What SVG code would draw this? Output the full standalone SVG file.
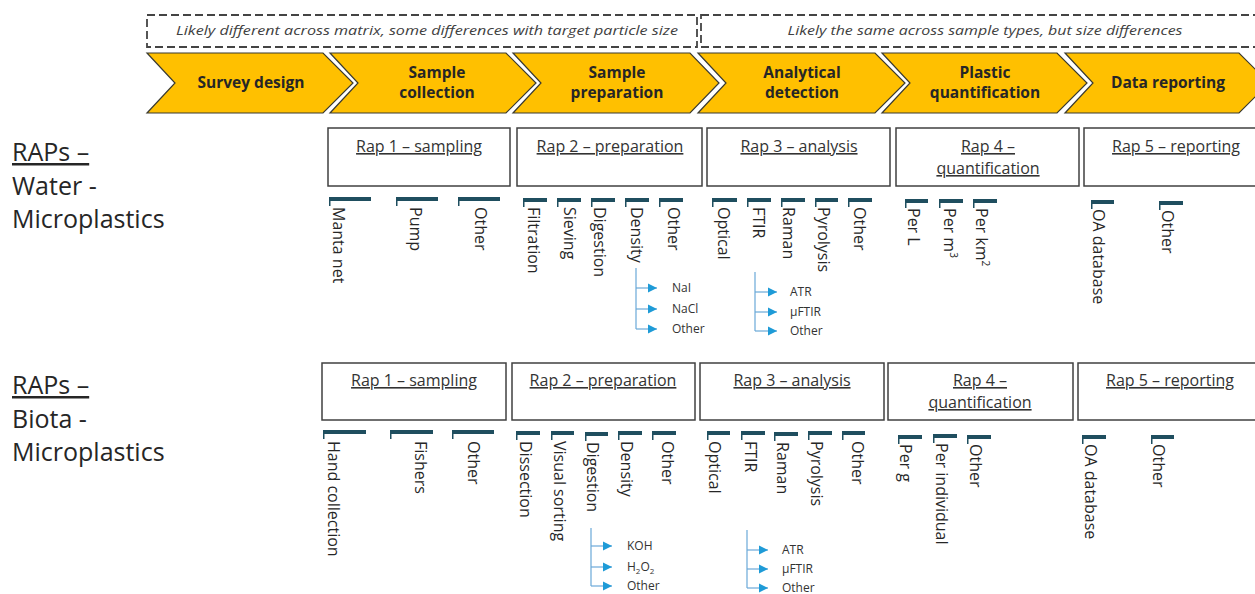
<svg xmlns="http://www.w3.org/2000/svg" width="1255" height="594" viewBox="0 0 1255 594">
<style>
.dash{fill:none;stroke:#444;stroke-width:1.8;stroke-dasharray:8 4}
.note{font-family:"Open Sans","Liberation Sans",sans-serif;font-style:italic;font-size:12.5px;fill:#404040;text-anchor:middle}
.chev{fill:#FFC000;stroke:#3a3a30;stroke-width:1.2;stroke-linejoin:miter}
.ct{font-family:"Open Sans","Liberation Sans",sans-serif;font-weight:700;font-size:15.5px;fill:#262626;text-anchor:middle}
.big{font-family:"Open Sans","Liberation Sans",sans-serif;font-size:25px;fill:#262626}
.box{fill:#fff;stroke:#404040;stroke-width:1.5}
.bt{font-family:"Open Sans","Liberation Sans",sans-serif;font-size:16px;fill:#333;text-anchor:middle;text-decoration:underline}
.bar{fill:#1F4E5F}
.v{font-family:"Open Sans","Liberation Sans",sans-serif;font-size:16px;fill:#262626}
.br{fill:none;stroke:#6aa8d8;stroke-width:1.2}
.ah{fill:#1E9BD7}
.st{font-family:"Open Sans","Liberation Sans",sans-serif;font-size:12px;fill:#333}
</style>
<defs>
<marker id="arr" markerWidth="10" markerHeight="10" refX="9" refY="5" orient="auto" markerUnits="userSpaceOnUse">
<path d="M0,0.5 L9,5 L0,9.5 Z" class="ah"/>
</marker>
</defs>

<g id="notes">
<rect class="dash" x="147" y="15" width="550" height="32"/>
<text class="note" x="427" y="35" textLength="502" lengthAdjust="spacingAndGlyphs">Likely different across matrix, some differences with target particle size</text>
<rect class="dash" x="701" y="15" width="570" height="32"/>
<text class="note" x="985" y="35" textLength="395" lengthAdjust="spacingAndGlyphs">Likely the same across sample types, but size differences</text>
</g>

<g id="chevrons">
<g id="chev-survey"><polygon class="chev" points="147,53 323,53 353,83 323,113 147,113 175,83"/><text class="ct" x="251" y="88">Survey design</text></g>
<g id="chev-collection"><polygon class="chev" points="330,53 506,53 536,83 506,113 330,113 358,83"/><text class="ct" x="437" y="78">Sample</text><text class="ct" x="437" y="98">collection</text></g>
<g id="chev-preparation"><polygon class="chev" points="513,53 690,53 719,83 690,113 513,113 541,83"/><text class="ct" x="617" y="78">Sample</text><text class="ct" x="617" y="98">preparation</text></g>
<g id="chev-analytical"><polygon class="chev" points="698,53 875,53 905,83 875,113 698,113 726,83"/><text class="ct" x="802" y="78">Analytical</text><text class="ct" x="802" y="98">detection</text></g>
<g id="chev-quant"><polygon class="chev" points="882,53 1057,53 1087,83 1057,113 882,113 910,83"/><text class="ct" x="985" y="78">Plastic</text><text class="ct" x="985" y="98">quantification</text></g>
<g id="chev-report"><polygon class="chev" points="1065,53 1239,53 1269,83 1239,113 1065,113 1093,83"/><text class="ct" x="1168" y="88">Data reporting</text></g>
</g>

<g id="label-water">
<text class="big" x="12" y="161" text-decoration="underline">RAPs –</text>
<text class="big" x="12" y="195">Water -</text>
<text class="big" x="12" y="228">Microplastics</text>
</g>
<g id="label-biota">
<text class="big" x="12" y="394" text-decoration="underline">RAPs –</text>
<text class="big" x="12" y="428">Biota -</text>
<text class="big" x="12" y="461">Microplastics</text>
</g>

<!-- Water boxes -->
<g id="w-rap1"><rect class="box" x="328" y="128" width="182" height="58"/><text class="bt" x="419" y="152">Rap 1 – sampling</text></g>
<g id="w-rap2"><rect class="box" x="517" y="128" width="185" height="58"/><text class="bt" x="610" y="152">Rap 2 – preparation</text></g>
<g id="w-rap3"><rect class="box" x="707" y="128" width="183" height="58"/><text class="bt" x="799" y="152">Rap 3 – analysis</text></g>
<g id="w-rap4"><rect class="box" x="896" y="128" width="183" height="58"/><text class="bt" x="988" y="152">Rap 4 –</text><text class="bt" x="988" y="174">quantification</text></g>
<g id="w-rap5"><rect class="box" x="1084" y="128" width="180" height="58"/><text class="bt" x="1176" y="152">Rap 5 – reporting</text></g>

<!-- Biota boxes -->
<g id="b-rap1"><rect class="box" x="322" y="363" width="184" height="57"/><text class="bt" x="414" y="386">Rap 1 – sampling</text></g>
<g id="b-rap2"><rect class="box" x="512" y="363" width="183" height="57"/><text class="bt" x="603" y="386">Rap 2 – preparation</text></g>
<g id="b-rap3"><rect class="box" x="700" y="363" width="184" height="57"/><text class="bt" x="792" y="386">Rap 3 – analysis</text></g>
<g id="b-rap4"><rect class="box" x="888" y="363" width="185" height="57"/><text class="bt" x="980" y="386">Rap 4 –</text><text class="bt" x="980" y="408">quantification</text></g>
<g id="b-rap5"><rect class="box" x="1078" y="363" width="190" height="57"/><text class="bt" x="1170" y="386">Rap 5 – reporting</text></g>

<!-- Water items -->
<g id="w-items">
<g><rect class="bar" x="329" y="197" width="42" height="4"/><rect class="bar" x="329" y="197" width="1.5" height="9"/><text class="v" transform="translate(333,207) rotate(90)">Manta net</text></g>
<g><rect class="bar" x="396" y="197" width="42" height="4"/><rect class="bar" x="396" y="197" width="1.5" height="9"/><text class="v" transform="translate(410,207) rotate(90)">Pump</text></g>
<g><rect class="bar" x="458" y="197" width="42" height="4"/><rect class="bar" x="458" y="197" width="1.5" height="9"/><text class="v" transform="translate(475,207) rotate(90)">Other</text></g>

<g><rect class="bar" x="523" y="198" width="24" height="4"/><rect class="bar" x="523" y="198" width="1.5" height="9"/><text class="v" transform="translate(528,207) rotate(90)">Filtration</text></g>
<g><rect class="bar" x="557" y="198" width="24" height="4"/><rect class="bar" x="557" y="198" width="1.5" height="9"/><text class="v" transform="translate(564,207) rotate(90)">Sieving</text></g>
<g><rect class="bar" x="591" y="198" width="24" height="4"/><rect class="bar" x="591" y="198" width="1.5" height="9"/><text class="v" transform="translate(594,207) rotate(90)">Digestion</text></g>
<g><rect class="bar" x="625" y="198" width="24" height="4"/><rect class="bar" x="625" y="198" width="1.5" height="9"/><text class="v" transform="translate(631,207) rotate(90)">Density</text></g>
<g><rect class="bar" x="659" y="198" width="24" height="4"/><rect class="bar" x="659" y="198" width="1.5" height="9"/><text class="v" transform="translate(668,207) rotate(90)">Other</text></g>

<g><rect class="bar" x="712" y="198" width="25" height="4"/><rect class="bar" x="712" y="198" width="1.5" height="9"/><text class="v" transform="translate(718,207) rotate(90)">Optical</text></g>
<g><rect class="bar" x="747" y="198" width="24" height="4"/><rect class="bar" x="747" y="198" width="1.5" height="9"/><text class="v" transform="translate(753,207) rotate(90)">FTIR</text></g>
<g><rect class="bar" x="781" y="198" width="24" height="4"/><rect class="bar" x="781" y="198" width="1.5" height="9"/><text class="v" transform="translate(783,207) rotate(90)">Raman</text></g>
<g><rect class="bar" x="815" y="198" width="23" height="4"/><rect class="bar" x="815" y="198" width="1.5" height="9"/><text class="v" transform="translate(818,207) rotate(90)">Pyrolysis</text></g>
<g><rect class="bar" x="848" y="198" width="24" height="4"/><rect class="bar" x="848" y="198" width="1.5" height="9"/><text class="v" transform="translate(854,207) rotate(90)">Other</text></g>

<g><rect class="bar" x="905" y="199" width="23" height="4"/><rect class="bar" x="905" y="199" width="1.5" height="9"/><text class="v" transform="translate(908,208) rotate(90)">Per L</text></g>
<g><rect class="bar" x="939" y="199" width="24" height="4"/><rect class="bar" x="939" y="199" width="1.5" height="9"/><text class="v" transform="translate(944,208) rotate(90)">Per m<tspan font-size="10" dy="-6">3</tspan></text></g>
<g><rect class="bar" x="973" y="199" width="24" height="4"/><rect class="bar" x="973" y="199" width="1.5" height="9"/><text class="v" transform="translate(976,208) rotate(90)">Per km<tspan font-size="10" dy="-6">2</tspan></text></g>

<g><rect class="bar" x="1091" y="200" width="23" height="4"/><rect class="bar" x="1091" y="200" width="1.5" height="9"/><text class="v" transform="translate(1093,209) rotate(90)">OA database</text></g>
<g><rect class="bar" x="1159" y="201" width="24" height="4"/><rect class="bar" x="1159" y="201" width="1.5" height="9"/><text class="v" transform="translate(1162,210) rotate(90)">Other</text></g>
</g>

<!-- Biota items -->
<g id="b-items">
<g><rect class="bar" x="323" y="430" width="43" height="4"/><rect class="bar" x="323" y="430" width="1.5" height="9"/><text class="v" transform="translate(328,441) rotate(90)">Hand collection</text></g>
<g><rect class="bar" x="390" y="430" width="43" height="4"/><rect class="bar" x="390" y="430" width="1.5" height="9"/><text class="v" transform="translate(415,441) rotate(90)">Fishers</text></g>
<g><rect class="bar" x="452" y="430" width="42" height="4"/><rect class="bar" x="452" y="430" width="1.5" height="9"/><text class="v" transform="translate(468,441) rotate(90)">Other</text></g>

<g><rect class="bar" x="516" y="431" width="24" height="4"/><rect class="bar" x="516" y="431" width="1.5" height="9"/><text class="v" transform="translate(520,441) rotate(90)">Dissection</text></g>
<g><rect class="bar" x="551" y="431" width="23" height="4"/><rect class="bar" x="551" y="431" width="1.5" height="9"/><text class="v" transform="translate(554,441) rotate(90)">Visual sorting</text></g>
<g><rect class="bar" x="585" y="432" width="23" height="4"/><rect class="bar" x="585" y="432" width="1.5" height="9"/><text class="v" transform="translate(587,442) rotate(90)">Digestion</text></g>
<g><rect class="bar" x="618" y="431" width="24" height="4"/><rect class="bar" x="618" y="431" width="1.5" height="9"/><text class="v" transform="translate(621,441) rotate(90)">Density</text></g>
<g><rect class="bar" x="652" y="431" width="24" height="4"/><rect class="bar" x="652" y="431" width="1.5" height="9"/><text class="v" transform="translate(662,441) rotate(90)">Other</text></g>

<g><rect class="bar" x="707" y="431" width="23" height="4"/><rect class="bar" x="707" y="431" width="1.5" height="9"/><text class="v" transform="translate(709,441) rotate(90)">Optical</text></g>
<g><rect class="bar" x="741" y="431" width="24" height="4"/><rect class="bar" x="741" y="431" width="1.5" height="9"/><text class="v" transform="translate(745,441) rotate(90)">FTIR</text></g>
<g><rect class="bar" x="774" y="432" width="24" height="4"/><rect class="bar" x="774" y="432" width="1.5" height="9"/><text class="v" transform="translate(777,442) rotate(90)">Raman</text></g>
<g><rect class="bar" x="808" y="431" width="24" height="4"/><rect class="bar" x="808" y="431" width="1.5" height="9"/><text class="v" transform="translate(811,441) rotate(90)">Pyrolysis</text></g>
<g><rect class="bar" x="842" y="431" width="23" height="4"/><rect class="bar" x="842" y="431" width="1.5" height="9"/><text class="v" transform="translate(852,441) rotate(90)">Other</text></g>

<g><rect class="bar" x="898" y="435" width="24" height="4"/><rect class="bar" x="898" y="435" width="1.5" height="9"/><text class="v" transform="translate(900,444) rotate(90)">Per g</text></g>
<g><rect class="bar" x="933" y="434" width="24" height="4"/><rect class="bar" x="933" y="434" width="1.5" height="9"/><text class="v" transform="translate(936,443) rotate(90)">Per individual</text></g>
<g><rect class="bar" x="967" y="435" width="24" height="4"/><rect class="bar" x="967" y="435" width="1.5" height="9"/><text class="v" transform="translate(970,444) rotate(90)">Other</text></g>

<g><rect class="bar" x="1082" y="435" width="24" height="4"/><rect class="bar" x="1082" y="435" width="1.5" height="9"/><text class="v" transform="translate(1085,444) rotate(90)">OA database</text></g>
<g><rect class="bar" x="1151" y="435" width="23" height="4"/><rect class="bar" x="1151" y="435" width="1.5" height="9"/><text class="v" transform="translate(1153,444) rotate(90)">Other</text></g>
</g>

<g id="connectors">
<path class="br" d="M636,268 V329"/>
<path class="br" d="M636,288 H657" marker-end="url(#arr)"/>
<path class="br" d="M636,309 H657" marker-end="url(#arr)"/>
<path class="br" d="M636,329 H657" marker-end="url(#arr)"/>

<path class="br" d="M755,272 V331"/>
<path class="br" d="M755,292 H777" marker-end="url(#arr)"/>
<path class="br" d="M755,312 H777" marker-end="url(#arr)"/>
<path class="br" d="M755,331 H777" marker-end="url(#arr)"/>

<path class="br" d="M591,528 V586"/>
<path class="br" d="M591,546 H612" marker-end="url(#arr)"/>
<path class="br" d="M591,567 H612" marker-end="url(#arr)"/>
<path class="br" d="M591,586 H612" marker-end="url(#arr)"/>

<path class="br" d="M747,530 V588"/>
<path class="br" d="M747,550 H768" marker-end="url(#arr)"/>
<path class="br" d="M747,569 H768" marker-end="url(#arr)"/>
<path class="br" d="M747,588 H768" marker-end="url(#arr)"/>
</g>

<g id="sub-labels">
<text class="st" x="672" y="292">NaI</text>
<text class="st" x="672" y="313">NaCl</text>
<text class="st" x="672" y="333">Other</text>
<text class="st" x="790" y="296">ATR</text>
<text class="st" x="790" y="316">µFTIR</text>
<text class="st" x="790" y="335">Other</text>
<text class="st" x="627" y="550">KOH</text>
<text class="st" x="627" y="571">H<tspan font-size="8" dy="3">2</tspan><tspan dy="-3">O</tspan><tspan font-size="8" dy="3">2</tspan></text>
<text class="st" x="627" y="590">Other</text>
<text class="st" x="782" y="554">ATR</text>
<text class="st" x="782" y="573">µFTIR</text>
<text class="st" x="782" y="592">Other</text>
</g>
</svg>
